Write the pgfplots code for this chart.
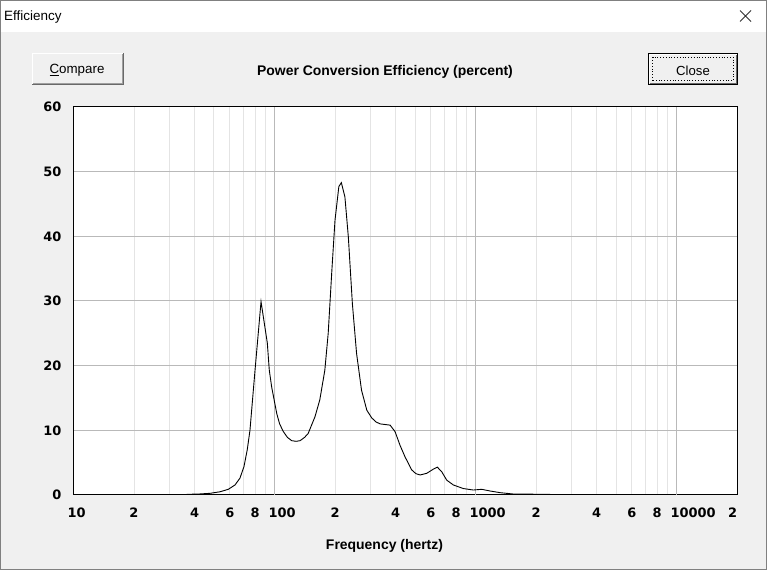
\documentclass[border=0pt]{standalone}
\usepackage{pgfplots}
\pgfplotsset{compat=1.18}
\usepackage{fontspec}
\setmainfont{Liberation Sans}
\newfontfamily\dv{DejaVu Sans}
\definecolor{face}{HTML}{F0F0F0}
\definecolor{gmaj}{HTML}{B9B9B9}
\definecolor{gmin}{HTML}{E4E4E4}
\definecolor{shd}{HTML}{A0A0A0}
\definecolor{dks}{HTML}{696969}
\newcommand\tickf{\dv\bfseries\fontsize{13}{13}\selectfont}
\newcommand\LL[1]{\makebox[0pt][l]{\kern-6bp #1}}
\newcommand\RR[1]{\makebox[0pt][r]{#1}}
\pgfplotstableread{
f v
36.5 0.1
42 0.15
47.8 0.26
53.6 0.5
58.9 0.88
63.6 1.55
67.3 2.6
70.5 4.4
73.2 7.0
75.5 10.0
80.0 19.3
85.7 29.9
92.1 23.5
94.2 19.3
96.8 16.7
102.6 12.6
106 11.0
110.7 9.8
116 8.9
121.8 8.4
128 8.3
134 8.4
141 8.9
147 9.5
159 12.1
168 14.7
178 19.3
185 25
193 34.8
200 42.5
209 47.7
215 48.3
224 46.1
233 39.9
244 29.6
256 21.9
271 16.2
288 13.1
305 11.9
320 11.3
335 11.0
376 10.8
398 9.8
421 7.7
446 5.9
481 3.9
505 3.3
530 3.1
572 3.35
617 4.0
646 4.3
679 3.6
719 2.3
776 1.55
869 1.0
975 0.77
1074 0.88
1181 0.62
1325 0.36
1543 0.15
2350 0.1
}\effdata
\begin{document}
\begin{tikzpicture}[x=1bp,y=1bp]
% window
\fill[white] (0,0) rectangle (769,571);
\fill[face] (0.5,1.5) rectangle (766.5,539);
\draw[gray,line width=1bp] (0.5,1.5) rectangle (766.5,570.5);
\node[anchor=west,inner sep=0pt,font=\fontsize{13.5}{13.5}\selectfont] at (4,553.5) {Efficiency};
\draw[black!80,line width=0.9bp] (740,560.5) -- (751,549.5) (740,549.5) -- (751,560.5);
% Compare button
\fill[face] (32,486) rectangle (124,518);
\draw[white,line width=1bp] (32.5,486.5) -- (32.5,517.5) -- (123.5,517.5);
\draw[shd,line width=1bp] (33,487.5) -- (122.5,487.5) -- (122.5,517);
\draw[dks,line width=1bp] (32,486.5) -- (123.5,486.5) -- (123.5,518);
\node[inner sep=0pt,font=\fontsize{13.4}{13.4}\selectfont] at (77,500.5) {\underline{C}ompare};
% Close button
\fill[face] (648,486) rectangle (738,518);
\draw[black,line width=1bp] (648.5,486.5) rectangle (737.5,517.5);
\draw[white,line width=1bp] (649.5,487.5) -- (649.5,516.5) -- (736.5,516.5);
\draw[dks,line width=1bp] (650,487.5) -- (736.5,487.5) -- (736.5,516);
\draw[black,line width=0.8bp,dotted] (652.5,490.5) rectangle (733.5,513.5);
\node[inner sep=0pt,font=\fontsize{13.2}{13.2}\selectfont] at (693,500.5) {Close};
% title
\node[inner sep=0pt,font=\bfseries\fontsize{14}{14}\selectfont] at (385,499.5) {Power Conversion Efficiency (percent)};
\begin{axis}[
  at={(73.5bp,76bp)}, anchor=south west,
  scale only axis, width=663.5bp, height=388bp,
  xmode=log, xmin=10, xmax=20000, ymin=0, ymax=60,
  axis line style={line width=1bp, black},
  axis background/.style={fill=white},
  major tick length=0pt, minor tick length=0pt,
  /pgf/number format/assume math mode=true,
  xtick={10,20,40,60,80,100,200,400,600,800,1000,2000,4000,6000,8000,10000,20000},
  xticklabels={\LL{10},2,4,6,8,\LL{100},2,4,6,8,\LL{1000},2,4,6,8,\LL{10000},\RR{2}},
  minor xtick={20,30,40,50,60,70,80,90,200,300,400,500,600,700,800,900,2000,3000,4000,5000,6000,7000,8000,9000},
  extra x ticks={100,1000,10000},
  extra x tick labels={},
  extra x tick style={xmajorgrids=true},
  xmajorgrids=false, xminorgrids=true,
  minor grid style={color=gmin, line width=1bp},
  major grid style={color=gmaj, line width=1bp},
  ytick={0,10,20,30,40,50,60},
  ymajorgrids=true,
  xticklabel style={anchor=north, inner sep=0pt, yshift=-12.5bp, font=\tickf},
  yticklabel style={anchor=east, inner sep=0pt, xshift=-12bp, font=\tickf},
  xlabel={Frequency (hertz)},
  xlabel style={at={(axis description cs:0.4687,0)}, anchor=center, yshift=-50.5bp, font=\bfseries\fontsize{14}{14}\selectfont},
]
\addplot[black, line width=0.9bp, mark=none] table[x=f,y=v] {\effdata};
\end{axis}
\end{tikzpicture}
\end{document}
